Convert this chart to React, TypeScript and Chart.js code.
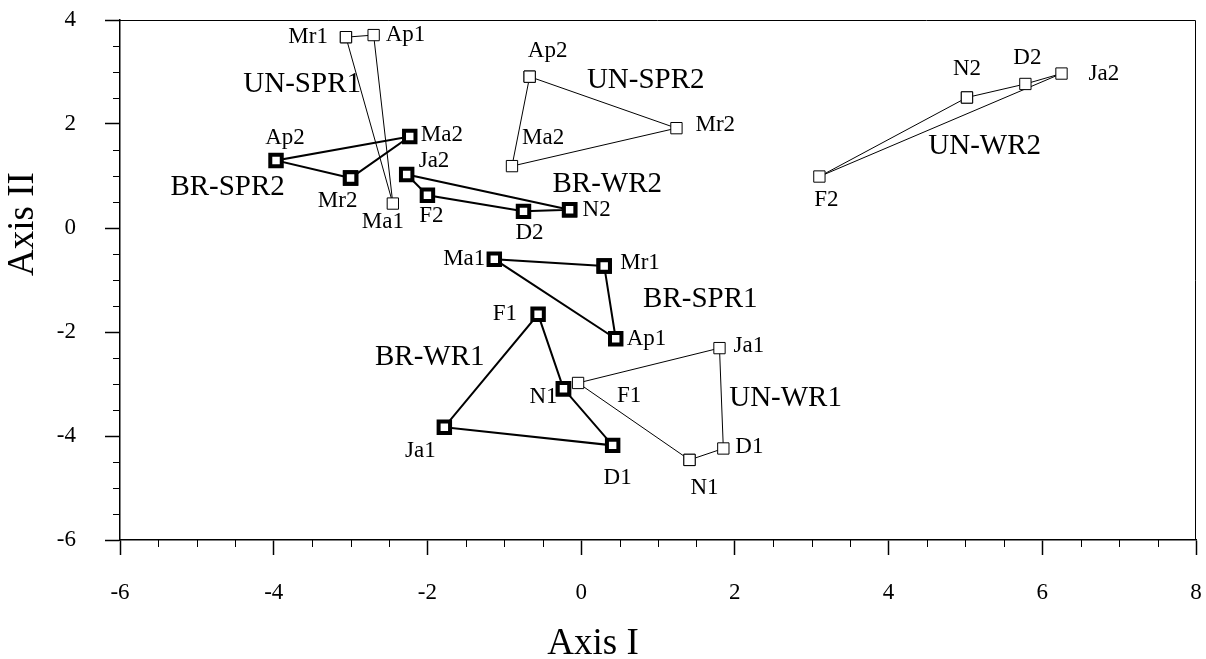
import React, { useEffect, useRef } from 'react';
import { Chart, registerables } from 'chart.js';

Chart.register(...registerables);

const FONT = '"Liberation Serif", "Times New Roman", serif';

// ---- Data (Axis I = x, Axis II = y) ----
// Unburned (open squares)
const unSpr1Labels = ['Mr1', 'Ap1', 'Ma1'];
const unSpr1X = [-3.06, -2.7, -2.45];
const unSpr1Y = [3.67, 3.71, 0.47];

const unSpr2Labels = ['Ap2', 'Mr2', 'Ma2'];
const unSpr2X = [-0.67, 1.24, -0.9];
const unSpr2Y = [2.91, 1.92, 1.19];

const unWr1Labels = ['N1', 'D1', 'Ja1', 'F1'];
const unWr1X = [1.41, 1.85, 1.8, -0.04];
const unWr1Y = [-4.46, -4.24, -2.31, -2.98];

const unWr2Labels = ['N2', 'D2', 'Ja2', 'F2'];
const unWr2X = [5.02, 5.78, 6.25, 3.1];
const unWr2Y = [2.51, 2.77, 2.97, 0.99];

// Burned (bold squares)
const brSpr1Labels = ['Mr1', 'Ap1', 'Ma1'];
const brSpr1X = [0.3, 0.45, -1.13];
const brSpr1Y = [-0.73, -2.13, -0.6];

const brSpr2Labels = ['Mr2', 'Ap2', 'Ma2'];
const brSpr2X = [-3.0, -3.97, -2.23];
const brSpr2Y = [0.96, 1.3, 1.76];

const brWr1Labels = ['N1', 'D1', 'Ja1', 'F1'];
const brWr1X = [-0.23, 0.41, -1.78, -0.56];
const brWr1Y = [-3.09, -4.18, -3.83, -1.66];

const brWr2Labels = ['N2', 'D2', 'F2', 'Ja2'];
const brWr2X = [-0.15, -0.75, -2.0, -2.27];
const brWr2Y = [0.35, 0.32, 0.63, 1.03];

// Group names and where their captions sit (data coordinates)
const groupNames = ['UN-SPR1', 'UN-SPR2', 'UN-WR1', 'UN-WR2', 'BR-SPR1', 'BR-SPR2', 'BR-WR1', 'BR-WR2'];
const groupCaptionX = [-3.63, 0.84, 2.66, 5.25, 1.55, -4.6, -1.97, 0.34];
const groupCaptionY = [2.77, 2.84, -3.27, 1.57, -1.38, 0.79, -2.48, 0.83];

// Axis ticks
const xTickMin = -6;
const xTickMax = 8;
const yTickMin = -6;
const yTickMax = 4;

// ---- Label placement (pixel offsets from marker, alignment) ----
type Off = [number, number, CanvasTextAlign];
const unSpr1Off: Off[] = [[-18, 0, 'right'], [12, 0, 'left'], [-10, 18, 'center']];
const unSpr2Off: Off[] = [[18, -26, 'center'], [19, -3, 'left'], [10, -28, 'left']];
const unWr1Off: Off[] = [[15, 28, 'center'], [12, -2, 'left'], [14, -2, 'left'], [51, 13, 'center']];
const unWr2Off: Off[] = [[0, -29, 'center'], [2, -26, 'center'], [27, 0, 'left'], [7, 23, 'center']];
const brSpr1Off: Off[] = [[16, -3, 'left'], [11, 0, 'left'], [-9, 0, 'right']];
const brSpr2Off: Off[] = [[-13, 23, 'center'], [9, -22, 'center'], [11, -2, 'left']];
const brWr1Off: Off[] = [[-20, 8, 'center'], [5, 33, 'center'], [-24, 24, 'center'], [-21, 0, 'right']];
const brWr2Off: Off[] = [[13, 0, 'left'], [6, 22, 'center'], [4, 21, 'center'], [12, -13, 'left']];

const groups = [
  { kind: 'UN', labels: unSpr1Labels, xs: unSpr1X, ys: unSpr1Y, offs: unSpr1Off },
  { kind: 'UN', labels: unSpr2Labels, xs: unSpr2X, ys: unSpr2Y, offs: unSpr2Off },
  { kind: 'UN', labels: unWr1Labels, xs: unWr1X, ys: unWr1Y, offs: unWr1Off },
  { kind: 'UN', labels: unWr2Labels, xs: unWr2X, ys: unWr2Y, offs: unWr2Off },
  { kind: 'BR', labels: brSpr1Labels, xs: brSpr1X, ys: brSpr1Y, offs: brSpr1Off },
  { kind: 'BR', labels: brSpr2Labels, xs: brSpr2X, ys: brSpr2Y, offs: brSpr2Off },
  { kind: 'BR', labels: brWr1Labels, xs: brWr1X, ys: brWr1Y, offs: brWr1Off },
  { kind: 'BR', labels: brWr2Labels, xs: brWr2X, ys: brWr2Y, offs: brWr2Off },
];

const decorPlugin = {
  id: 'decor',
  afterDraw(chart: any) {
    const ctx: CanvasRenderingContext2D = chart.ctx;
    const { left, right, top, bottom } = chart.chartArea;
    const xs = chart.scales.x;
    const ys = chart.scales.y;
    ctx.save();
    // frame top & right
    ctx.strokeStyle = '#000';
    ctx.lineWidth = 1;
    ctx.beginPath();
    ctx.moveTo(left, top + 0.5);
    ctx.lineTo(right - 0.5, top + 0.5);
    ctx.lineTo(right - 0.5, bottom);
    ctx.stroke();
    // minor ticks
    ctx.lineWidth = 1;
    ctx.beginPath();
    for (let v = xTickMin; v <= xTickMax + 1e-9; v += 0.5) {
      if (Math.abs(v % 2) < 1e-9) continue;
      const px = Math.round(xs.getPixelForValue(v)) + 0.5;
      ctx.moveTo(px, bottom);
      ctx.lineTo(px, bottom + 7);
    }
    for (let v = yTickMin; v <= yTickMax + 1e-9; v += 0.5) {
      if (Math.abs(v % 2) < 1e-9) continue;
      const py = Math.round(ys.getPixelForValue(v)) + 0.5;
      ctx.moveTo(left, py);
      ctx.lineTo(left - 7, py);
    }
    ctx.stroke();

    // point labels
    ctx.fillStyle = '#000';
    ctx.textBaseline = 'middle';
    ctx.font = `23px ${FONT}`;
    groups.forEach((g, i) => {
      const meta = chart.getDatasetMeta(i);
      g.labels.forEach((lab, j) => {
        const el = meta.data[j];
        if (!el) return;
        const [dx, dy, al] = g.offs[j];
        ctx.textAlign = al;
        ctx.fillText(lab, el.x + dx, el.y + dy);
      });
    });

    // group captions
    ctx.font = `29px ${FONT}`;
    ctx.textAlign = 'center';
    groupNames.forEach((n, i) => {
      ctx.fillText(n, xs.getPixelForValue(groupCaptionX[i]), ys.getPixelForValue(groupCaptionY[i]));
    });

    // axis titles
    ctx.font = `37px ${FONT}`;
    ctx.textAlign = 'center';
    ctx.fillText('Axis I', 593, 644);
    ctx.translate(23, 224);
    ctx.rotate(-Math.PI / 2);
    ctx.fillText('Axis II', 0, 0);
    ctx.restore();
  },
};

export default function App() {
  const ref = useRef<HTMLCanvasElement | null>(null);
  useEffect(() => {
    document.body.style.margin = '0';
    const canvas = ref.current;
    if (!canvas) return;
    const datasets = groups.map((g) => {
      const pts = g.xs.map((x, k) => ({ x, y: g.ys[k] }));
      pts.push({ ...pts[0] });
      const un = g.kind === 'UN';
      return {
        data: pts,
        showLine: true,
        fill: false,
        tension: 0,
        borderColor: '#000',
        borderWidth: un ? 1 : 2,
        pointStyle: 'rect',
        pointRadius: un ? 8 : 8.1,
        pointHoverRadius: un ? 8 : 8.1,
        pointBorderWidth: un ? 1 : 4,
        pointBackgroundColor: '#fff',
        pointBorderColor: '#000',
      };
    });
    const tickFont = { family: FONT, size: 23 };
    const chart = new Chart(canvas, {
      type: 'scatter',
      data: { datasets } as any,
      options: {
        animation: false,
        responsive: false,
        devicePixelRatio: 1,
        layout: { padding: { top: 20, right: 10, left: 0, bottom: 0 }, autoPadding: false } as any,
        plugins: { legend: { display: false }, tooltip: { enabled: false } },
        events: [],
        scales: {
          x: {
            type: 'linear',
            position: 'bottom',
            min: xTickMin,
            max: xTickMax,
            afterFit: (s: any) => {
              s.height = 119;
              s.paddingLeft = 0;
              s.paddingRight = 0;
            },
            ticks: {
              stepSize: 2,
              padding: 24,
              autoSkip: false,
              maxRotation: 0,
              color: '#000',
              font: tickFont,
              callback: (v: any) => String(v),
            },
            grid: { drawOnChartArea: false, drawTicks: true, tickLength: 15, tickWidth: 1.5, tickColor: '#000' },
            border: { display: true, color: '#000', width: 1.5 },
          },
          y: {
            type: 'linear',
            position: 'left',
            min: yTickMin,
            max: yTickMax,
            afterFit: (s: any) => {
              s.width = 120;
              s.paddingTop = 0;
              s.paddingBottom = 0;
            },
            ticks: {
              stepSize: 2,
              padding: 29,
              autoSkip: false,
              color: '#000',
              font: tickFont,
              callback: (v: any) => String(v),
            },
            grid: { drawOnChartArea: false, drawTicks: true, tickLength: 15, tickWidth: 1.5, tickColor: '#000' },
            border: { display: true, color: '#000', width: 1.5 },
          },
        },
      } as any,
      plugins: [decorPlugin],
    });
    return () => chart.destroy();
  }, []);
  return (
    <div style={{ width: 1206, height: 659 }}>
      <canvas ref={ref} width={1206} height={659} style={{ display: 'block' }} />
    </div>
  );
}
